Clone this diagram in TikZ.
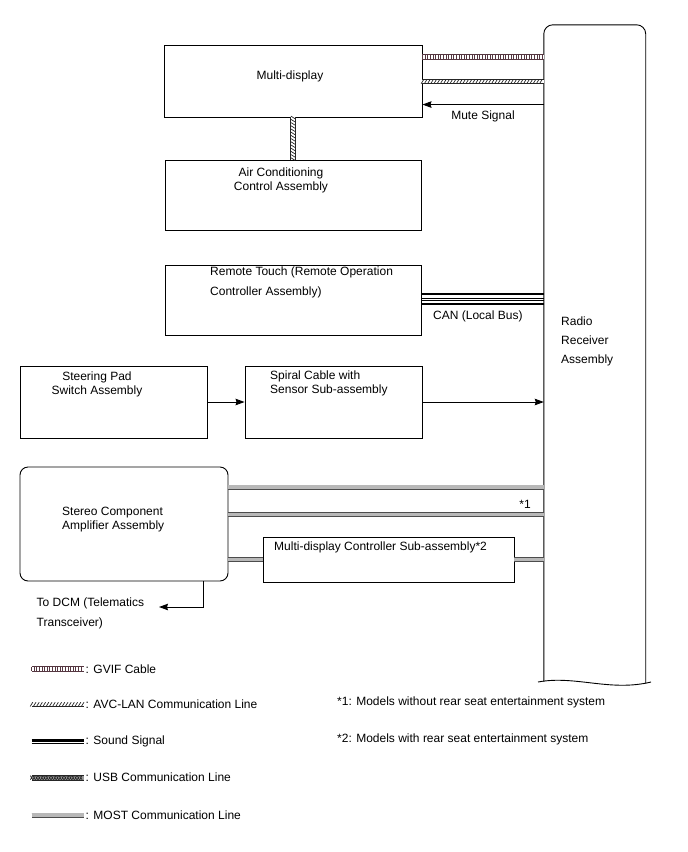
\documentclass[tikz,border=0pt]{standalone}
\usepackage{fontspec}
\setmainfont{Liberation Sans}
\usetikzlibrary{arrows.meta,decorations.markings}
\definecolor{gvifc}{RGB}{85,55,65}
\begin{document}
\begin{tikzpicture}
[
x = 1pt, y = -1pt,
font = \fontsize{12}{14}\selectfont,
box/.style = {draw, line width=0.9pt, inner sep=0pt},
txt/.style = {inner sep=0pt, align=left},
arr/.style = {line width=0.9pt, -{Stealth[length=9pt,width=6.5pt,inset=1pt]}},
gvif/.style = {draw=gvifc, line width=0.9pt, double=white, double distance=3.8pt,
  postaction={decorate, decoration={markings, mark=between positions 0 and 1 step 2.6pt with {\draw[gvifc, line width=0.7pt] (0pt,-2.2pt) -- (0pt,2.2pt);}}}},
avclan/.style = {draw=black!85, line width=0.9pt, double=white, double distance=3.8pt,
  postaction={decorate, decoration={markings, mark=between positions 0 and 1 step 3.2pt with {\draw[black!85, line width=0.7pt] (-1.3pt,-2.1pt) -- (1.3pt,2.1pt);}}}},
usb/.style = {draw=black!85, line width=0.9pt, double=black!40, double distance=3.8pt,
  postaction={decorate, decoration={markings, mark=between positions 0 and 1 step 2.6pt with {\draw[black!85, line width=0.6pt] (-1.2pt,-2.1pt) -- (1.2pt,2.1pt) (-1.2pt,2.1pt) -- (1.2pt,-2.1pt);}}}},
most/.style = {draw=black!70, line width=0.9pt, double=black!28, double distance=3.2pt},
sndthick/.style = {line width=2.6pt},
sndthin/.style = {line width=0.9pt}
]
\useasboundingbox (0,0) rectangle (688,852);

\node [box, minimum width=258pt, minimum height=72pt] (md) at (293,81) {};
\node [box, minimum width=256pt, minimum height=70pt] (ac) at (293,195) {};
\node [box, minimum width=256pt, minimum height=70pt] (rt) at (293,300) {};
\node [box, minimum width=187pt, minimum height=72pt] (sw) at (113.5,402) {};
\node [box, minimum width=177pt, minimum height=72pt] (sp) at (333.5,402) {};
\node [box, rounded corners=8pt, minimum width=208pt, minimum height=114pt] (amp) at (124,524) {};
\node [box, minimum width=251pt, minimum height=45pt] (mdc) at (388.5,559.5) {};
\node [inner sep=0pt, minimum width=101.5pt, minimum height=656.5pt] (radio) at (594.75,353.25) {};

\draw [line width=0.9pt, rounded corners=9pt] (radio.south west) -- (radio.north west) -- (radio.north east) -- ([yshift=-2pt]radio.south east);
\draw [line width=0.9pt] (538,682) .. controls (575,675) and (610,692) .. (651,682);

\node [txt] (mdtext) at (290,76) {Multi-display};
\node [txt, align=center] (actext) at (281,180) {Air Conditioning\\Control Assembly};
\node [txt, anchor=west, font=\fontsize{12}{20}\selectfont] (rttext) at (210,282.5) {Remote Touch (Remote Operation\\Controller Assembly)};
\node [txt, align=center] (swtext) at (97,384) {Steering Pad\\Switch Assembly};
\node [txt, anchor=west] (sptext) at (270,383.5) {Spiral Cable with\\Sensor Sub-assembly};
\node [txt, anchor=west] (amptext) at (62,519.5) {Stereo Component\\Amplifier Assembly};
\node [txt, anchor=west] (mdctext) at (274,547) {Multi-display Controller Sub-assembly*2};
\node [txt, anchor=west, font=\fontsize{12}{19}\selectfont] (radiotext) at (561,341.5) {Radio\\Receiver\\Assembly};

\path ([yshift=-12.5pt]md.north east) coordinate (g1)
      ([yshift=-37pt]md.north east) coordinate (a1)
      ([yshift=-60pt]md.north east) coordinate (m1);
\draw [gvif] (g1) -- (g1 -| radio.west);
\draw [avclan] (a1) -- (a1 -| radio.west);
\draw [arr] (m1 -| radio.west) -- (m1);
\node [txt] (mute) at (483,116) {Mute Signal};
\draw [avclan] (md.south) -- (ac.north);

\path ([yshift=-29.5pt]rt.north east) coordinate (c1)
      ([yshift=-33.5pt]rt.north east) coordinate (c2)
      ([yshift=-36pt]rt.north east) coordinate (c3)
      ([yshift=-39.5pt]rt.north east) coordinate (c4);
\draw [sndthick] (c1) -- (c1 -| radio.west);
\draw [sndthin] (c2) -- (c2 -| radio.west);
\draw [sndthin] (c3) -- (c3 -| radio.west);
\draw [sndthick] (c4) -- (c4 -| radio.west);
\node [txt, anchor=west] (can) at (433,316.5) {CAN (Local Bus)};

\draw [arr] (sw.east) -- (sp.west);
\draw [arr] (sp.east) -- (sp.east -| radio.west);

\path ([yshift=-20.5pt]amp.north east) coordinate (s1)
      ([yshift=-47.7pt]amp.north east) coordinate (s2);
\draw [most] (s1) -- (s1 -| radio.west);
\draw [most] (s2) -- (s2 -| radio.west);
\draw [most] (amp.east |- mdc.west) -- (mdc.west);
\draw [most] (mdc.east) -- (mdc.east -| radio.west);
\node [txt] (n1) at (525,504) {*1};

\coordinate (d1) at ([xshift=-25pt]amp.south east);
\coordinate (d2) at (159,607);
\draw [arr] (d1) |- (d2);
\node [txt, anchor=west, font=\fontsize{12}{20}\selectfont] (dcm) at (36.5,613.8) {To DCM (Telematics\\Transceiver)};

\node [txt, anchor=west] (lg1) at (85.5,669) {: GVIF Cable};
\node [txt, anchor=west] (lg2) at (85.5,704.3) {: AVC-LAN Communication Line};
\node [txt, anchor=west] (lg3) at (85.5,741.7) {: Sound Signal};
\node [txt, anchor=west] (lg4) at (85.5,777.7) {: USB Communication Line};
\node [txt, anchor=west] (lg5) at (85.5,815) {: MOST Communication Line};
\draw [gvif] ([xshift=-54pt]lg1.west) -- ([xshift=-2pt]lg1.west);
\draw [avclan] ([xshift=-54pt]lg2.west) -- ([xshift=-2pt]lg2.west);
\draw [sndthick] ([xshift=-54pt,yshift=1.5pt]lg3.west) -- ([xshift=-2pt,yshift=1.5pt]lg3.west);
\draw [sndthin] ([xshift=-54pt,yshift=-2pt]lg3.west) -- ([xshift=-2pt,yshift=-2pt]lg3.west);
\draw [usb] ([xshift=-54pt]lg4.west) -- ([xshift=-2pt]lg4.west);
\draw [most] ([xshift=-54pt]lg5.west) -- ([xshift=-2pt]lg5.west);

\node [txt, anchor=west] (fn1) at (337,702) {*1: Models without rear seat entertainment system};
\node [txt, anchor=west] (fn2) at (337,739) {*2: Models with rear seat entertainment system};
\end{tikzpicture}
\end{document}
